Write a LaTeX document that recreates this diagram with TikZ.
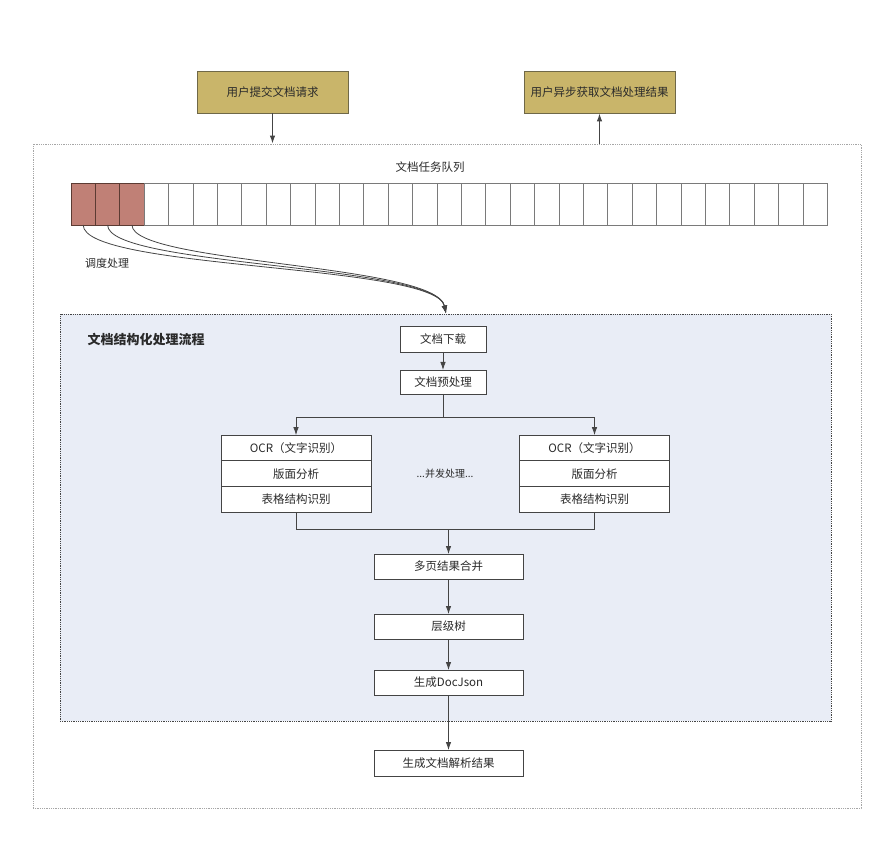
\documentclass[tikz,border=0pt]{standalone}
\usepackage{fontspec}
\setmainfont{Noto Sans CJK SC}
\usetikzlibrary{positioning, arrows, arrows.meta,
calc % for the split and join points
}
\definecolor{gold}{HTML}{C9B56A}
\definecolor{golddark}{HTML}{6F6848}
\definecolor{busyred}{HTML}{C08076}
\definecolor{busydark}{HTML}{5C3B33}
\definecolor{cellgray}{HTML}{7A7A7A}
\definecolor{linegray}{HTML}{444444}
\definecolor{textgray}{HTML}{2A2A2A}
\definecolor{panelblue}{HTML}{E9EDF6}
\tikzset{%
  node distance=0pt, % queue cells and table rows touch each other
  every node/.style={font=\fontsize{11.5}{13}\selectfont, text=textgray},
  cell/.style={draw=cellgray, fill=white, minimum width=24.4pt, minimum height=42pt, inner sep=0pt, outer sep=0pt},
  busy/.style={cell, draw=busydark, fill=busyred},
  userbox/.style={draw=golddark, fill=gold, minimum width=151pt, minimum height=42pt, inner sep=0pt},
  stepbox/.style={draw=linegray, fill=white, minimum width=149pt, minimum height=25pt, inner sep=0pt, outer sep=0pt},
  outerbox/.style={draw=gray!70, densely dotted, inner sep=0pt},
  panel/.style={draw=linegray, densely dotted, fill=panelblue, inner sep=0pt},
  every edge/.style={%
    draw,->, >=latex, linegray, semithick
  }
}

\begin{document}
\begin{tikzpicture}[x=1pt, y=-1pt, >={Latex[length=8pt, width=5.5pt]}, linegray, line width=0.8pt]
\useasboundingbox (0,0) rectangle (887,850);

\node[outerbox, minimum width=828pt, minimum height=664pt] (sys) at (447,476) {};

\node[userbox] (submit) at (272.5,92) {用户提交文档请求};
\node[userbox] (fetch) at (599.5,92) {用户异步获取文档处理结果};
\draw[->, line width=1.1pt] (submit) -- (submit |- sys.north);
\draw[->, line width=1.1pt] (sys.north -| fetch) -- (fetch);

\node (qtitle) at (430,167) {文档任务队列};

\node[busy] (q1) at (83.2,204) {};
\node[busy, right=of q1] (q2) {};
\node[busy, right=of q2] (q3) {};
\node[cell, right=of q3] (q4) {};
\node[cell, right=of q4] (q5) {};
\node[cell, right=of q5] (q6) {};
\node[cell, right=of q6] (q7) {};
\node[cell, right=of q7] (q8) {};
\node[cell, right=of q8] (q9) {};
\node[cell, right=of q9] (q10) {};
\node[cell, right=of q10] (q11) {};
\node[cell, right=of q11] (q12) {};
\node[cell, right=of q12] (q13) {};
\node[cell, right=of q13] (q14) {};
\node[cell, right=of q14] (q15) {};
\node[cell, right=of q15] (q16) {};
\node[cell, right=of q16] (q17) {};
\node[cell, right=of q17] (q18) {};
\node[cell, right=of q18] (q19) {};
\node[cell, right=of q19] (q20) {};
\node[cell, right=of q20] (q21) {};
\node[cell, right=of q21] (q22) {};
\node[cell, right=of q22] (q23) {};
\node[cell, right=of q23] (q24) {};
\node[cell, right=of q24] (q25) {};
\node[cell, right=of q25] (q26) {};
\node[cell, right=of q26] (q27) {};
\node[cell, right=of q27] (q28) {};
\node[cell, right=of q28] (q29) {};
\node[cell, right=of q29] (q30) {};
\node[cell, right=of q30] (q31) {};

\node[font=\fontsize{11}{12}\selectfont] (dispatch) at (107,263) {调度处理};

\node[panel, minimum width=771pt, minimum height=407pt] (flow) at (445.5,517.5) {};
\node[font=\fontsize{13}{15}\selectfont\bfseries, anchor=west] (flowtitle) at (84,340) {文档结构化处理流程};

\node[stepbox, minimum width=86pt, minimum height=26pt] (load) at (443,339) {文档下载};
\node[stepbox, minimum width=86pt, minimum height=24pt, below=18pt of load] (pre) {文档预处理};

\coordinate (entry) at ($(flow.north -| load)+(3,0)$);
\draw[->] (q1.south) .. controls +(0,45) and +(-10,-50) .. (entry);
\draw[->] (q2.south) .. controls +(0,42) and +(-10,-50) .. (entry);
\draw[->] (q3.south) .. controls +(0,39) and +(-10,-50) .. (entry);

\draw[->] (load) -- (pre);

\node[stepbox, minimum width=150pt, minimum height=25.7pt] (ocrL) at (296,448) {OCR（文字识别）};
\node[stepbox, minimum width=150pt, minimum height=25.7pt, below=of ocrL] (layL) {版面分析};
\node[stepbox, minimum width=150pt, minimum height=25.7pt, below=of layL] (tabL) {表格结构识别};

\node[stepbox, minimum width=150pt, minimum height=25.7pt] (ocrR) at (594.5,448) {OCR（文字识别）};
\node[stepbox, minimum width=150pt, minimum height=25.7pt, below=of ocrR] (layR) {版面分析};
\node[stepbox, minimum width=150pt, minimum height=25.7pt, below=of layR] (tabR) {表格结构识别};

\node[font=\fontsize{10}{11}\selectfont] (para) at (445,474) {...并发处理...};

\coordinate (split) at ($(pre.south)+(0,23)$);
\draw (pre) -- (split);
\draw[->] (split) -| (ocrL);
\draw[->] (split) -| (ocrR);

\node[stepbox] (merge) at (448.5,566.5) {多页结果合并};
\node[stepbox, below=35pt of merge] (tree) {层级树};
\node[stepbox, below=31pt of tree] (json) {生成DocJson};
\node[stepbox, minimum height=26pt, below=55pt of json] (result) {生成文档解析结果};

\coordinate (join) at ($(tabL.south -| merge)+(0,17)$);
\draw (tabL) |- (join);
\draw (tabR) |- (join);
\draw[->] (join) -- (merge);
\draw[->] (merge) -- (tree);
\draw[->] (tree) -- (json);
\draw[->] (json) -- (result);

\end{tikzpicture}
\end{document}
